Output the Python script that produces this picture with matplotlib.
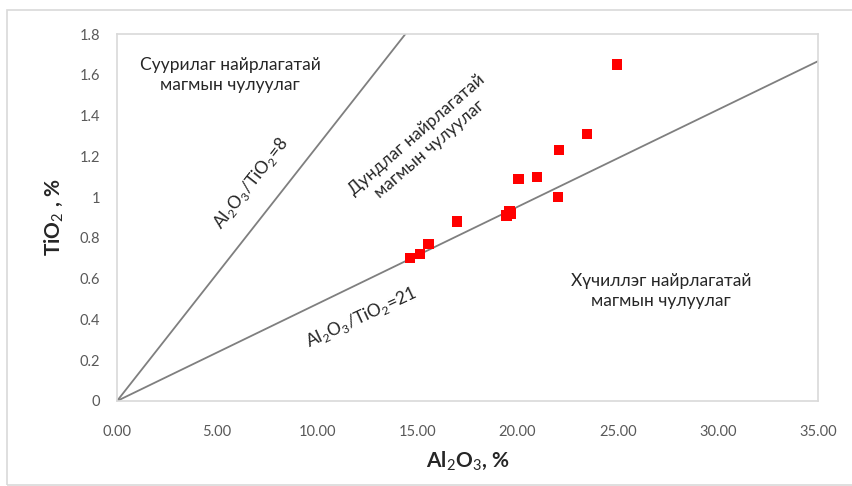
import matplotlib
matplotlib.use("Agg")
import matplotlib.pyplot as plt
from matplotlib.patches import Rectangle

# Data
al2o3 = [14.63, 15.13, 15.56, 16.96, 19.45, 19.59, 19.65, 20.05, 20.98, 22.03, 22.08, 23.48, 24.97]
tio2 = [0.70, 0.72, 0.77, 0.88, 0.91, 0.93, 0.92, 1.09, 1.10, 1.00, 1.23, 1.31, 1.65]
ratio_lines = [8, 21]
x_ticks = [0, 5, 10, 15, 20, 25, 30, 35]
y_ticks = [0, 0.2, 0.4, 0.6, 0.8, 1.0, 1.2, 1.4, 1.6, 1.8]
y_tick_labels = ["0", "0.2", "0.4", "0.6", "0.8", "1", "1.2", "1.4", "1.6", "1.8"]

plt.rcParams['font.family'] = ['Lato', 'DejaVu Sans']
plt.rcParams['mathtext.fontset'] = 'custom'
plt.rcParams['mathtext.rm'] = 'Lato'
plt.rcParams['mathtext.bf'] = 'Lato:bold'

fig = plt.figure(figsize=(8.52, 4.86), dpi=100)
ax = fig.add_axes([117/852, 1-401/486, (818-117)/852, (401-34)/486])

# outer chart border
fig.patches.append(Rectangle((7/852, 0.002), 1.0, (486-10)/486 - 0.002, transform=fig.transFigure,
                             fill=False, edgecolor='#d9d9d9', linewidth=1.2))

xmax = 35
ymax = 1.8
for r in ratio_lines:
    xe = min(xmax, ymax * r)
    ax.plot([0, xe], [0, xe / r], color='#7f7f7f', linewidth=1.3, zorder=2)

ax.scatter(al2o3, tio2, marker='s', s=55, color='#ff0000', edgecolors='none', zorder=3)

ax.set_xlim(0, xmax)
ax.set_ylim(0, ymax)
ax.set_xticks(x_ticks)
ax.set_xticklabels([f"{v:.2f}" for v in x_ticks])
ax.set_yticks(y_ticks)
ax.set_yticklabels(y_tick_labels)
ax.tick_params(length=0, labelsize=10.5, colors='#595959')
ax.tick_params(axis='x', pad=17)
ax.tick_params(axis='y', pad=12)
for s in ax.spines.values():
    s.set_color('#d9d9d9')
    s.set_linewidth(1.2)

ax.set_xlabel(r"Al$_2$O$_3$, %", fontsize=15, fontweight='bold', color='#262626', labelpad=8)
ax.set_ylabel(r"TiO$_2$ , %", fontsize=15, fontweight='bold', color='#262626', labelpad=10)

tc = '#262626'
fs = 12.5
ax.text(5.64, 1.60, "Суурилаг найрлагатай\nмагмын чулуулаг", ha='center', va='center',
        fontsize=fs, color=tc, linespacing=1.35)
ax.text(6.7, 1.07, r"Al$_2$O$_3$/TiO$_2$=8", ha='center', va='center', rotation=52,
        fontsize=fs, color=tc, rotation_mode='anchor')
ax.text(15.28, 1.27, "Дундлаг найрлагатай\nмагмын чулуулаг", ha='center', va='center', rotation=41,
        fontsize=fs, color=tc, linespacing=1.2, rotation_mode='anchor')
ax.text(12.2, 0.41, r"Al$_2$O$_3$/TiO$_2$=21", ha='center', va='center', rotation=25,
        fontsize=fs, color=tc, rotation_mode='anchor')
ax.text(27.16, 0.54, "Хүчиллэг найрлагатай\nмагмын чулуулаг", ha='center', va='center',
        fontsize=fs, color=tc, linespacing=1.35)

fig.savefig("out.png", dpi=100)
